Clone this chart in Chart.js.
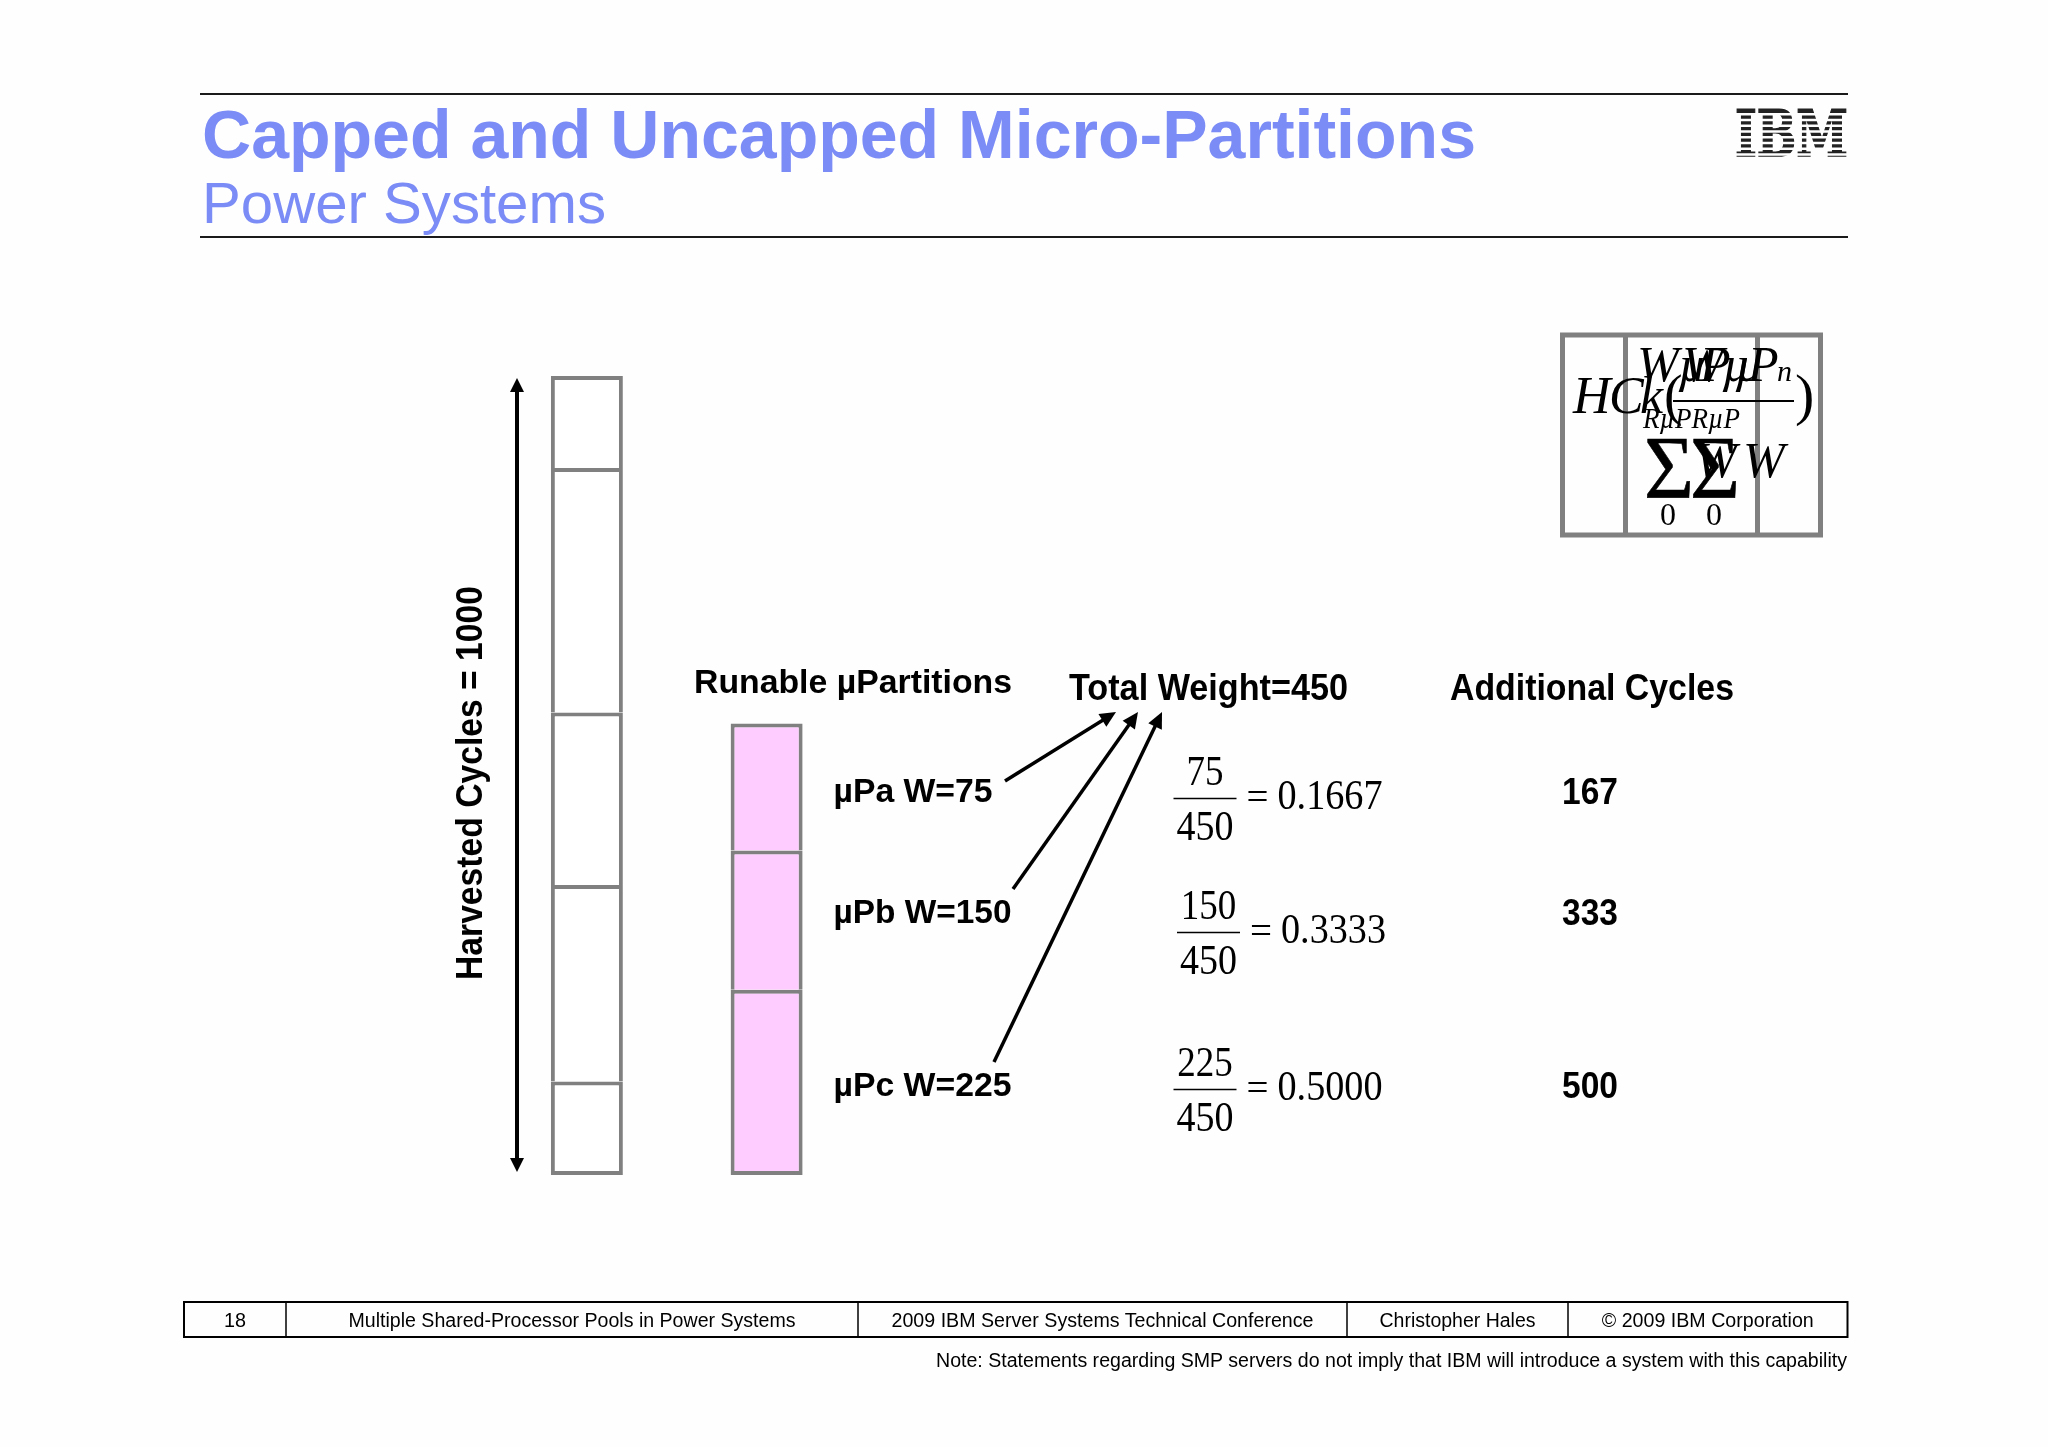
<!DOCTYPE html>
<html>
<head>
<meta charset="utf-8">
<title>Capped and Uncapped Micro-Partitions</title>
<script src="https://cdn.jsdelivr.net/npm/chart.js@4"></script>
<style>
html, body { margin: 0; padding: 0; background: #fefefe; }
#page { position: relative; width: 2048px; height: 1447px; overflow: hidden; }
#chart { position: absolute; left: 0; top: 0; }
#overlay { position: absolute; left: 0; top: 0; }
</style>
</head>
<body>
<div id="page">
<canvas id="chart" width="2048" height="1447"></canvas>
<svg id="overlay" width="2048" height="1447" viewBox="0 0 2048 1447"></svg>
</div>
<script>
// values, bottom segment first
const columns = ['Harvested Cycles', 'Runable µPartitions'];
const harvestedSegments = [117, 246, 216, 306, 115];
const runableSegments = [232, 174, 159];

const partitions = ['µPa', 'µPb', 'µPc'];
const weights = [75, 150, 225];
const shares = ['0.1667', '0.3333', '0.5000'];
const additionalCycles = [167, 333, 500];
const totalWeight = 450;
const harvestedTotal = 1000;

const footerCells = ['18', 'Multiple Shared-Processor Pools in Power Systems', '2009 IBM Server Systems Technical Conference', 'Christopher Hales', '© 2009 IBM Corporation'];

const GREY = '#808080';
const PINK = '#ffccff';
const TITLE_BLUE = '#7b8cf6';
const SANS = '"Liberation Sans", Arial, sans-serif';
const SERIF = '"Liberation Serif", "Times New Roman", serif';

function segmentDataset(value, index, column, fill) {
    let data = [null, null];
    data[column] = value;
    return {
        data: data,
        backgroundColor: fill,
        borderColor: GREY,
        borderWidth: 4,
        borderSkipped: index === 0 ? false : 'start',
        inflateAmount: 0,
        barThickness: 72
    };
}

const datasets = [
    ...harvestedSegments.map((v, i) => segmentDataset(v, i, 0, '#ffffff')),
    ...runableSegments.map((v, i) => segmentDataset(v, i, 1, PINK))
];

new Chart(document.getElementById('chart').getContext('2d'), {
    type: 'bar',
    data: { labels: columns, datasets: datasets },
    options: {
        responsive: false,
        animation: false,
        layout: { padding: { left: 497, right: 1191.5, top: 376, bottom: 272 } },
        plugins: { legend: { display: false }, tooltip: { enabled: false } },
        scales: {
            x: { display: false, stacked: true },
            y: { display: false, stacked: true, min: 0, max: harvestedTotal }
        }
    }
});

// everything around the chart: slide furniture, labels, arrows
const svg = document.getElementById('overlay');
const NS = 'http://www.w3.org/2000/svg';

function add(tag, attrs, content) {
    let el = document.createElementNS(NS, tag);
    for (let k in attrs) el.setAttribute(k, attrs[k]);
    if (content !== undefined) el.textContent = content;
    svg.appendChild(el);
    return el;
}

function text(str, x, y, size, opts) {
    opts = opts || {};
    let attrs = {
        x: x, y: y,
        'font-size': size,
        'font-family': opts.family || SANS,
        'font-weight': opts.weight || 'normal',
        'font-style': opts.style || 'normal',
        fill: opts.fill || '#000000',
        'text-anchor': opts.anchor || 'start'
    };
    if (opts.width) {
        attrs.textLength = opts.width;
        attrs.lengthAdjust = 'spacingAndGlyphs';
    }
    if (opts.stroke) {
        attrs.stroke = opts.fill || '#000000';
        attrs['stroke-width'] = opts.stroke;
    }
    if (opts.transform) attrs.transform = opts.transform;
    return add('text', attrs, str);
}

function line(x1, y1, x2, y2, width, color) {
    add('line', { x1: x1, y1: y1, x2: x2, y2: y2, stroke: color || '#000000', 'stroke-width': width });
}

function arrowHead(x1, y1, x2, y2, len, half) {
    let a = Math.atan2(y2 - y1, x2 - x1);
    let bx = x2 - len * Math.cos(a), by = y2 - len * Math.sin(a);
    let nx = -Math.sin(a) * half, ny = Math.cos(a) * half;
    add('polygon', { points: `${x2},${y2} ${bx + nx},${by + ny} ${bx - nx},${by - ny}`, fill: '#000000' });
}

function arrow(x1, y1, x2, y2) {
    let a = Math.atan2(y2 - y1, x2 - x1);
    line(x1, y1, x2 - 10 * Math.cos(a), y2 - 10 * Math.sin(a), 3.5);
    arrowHead(x1, y1, x2, y2, 16, 7.5);
}

// header
line(200, 94, 1848, 94, 2, '#1a1a1a');
line(200, 237, 1848, 237, 2, '#1a1a1a');
text('Capped and Uncapped Micro-Partitions', 202, 158, 68, { weight: 'bold', fill: TITLE_BLUE, width: 1274 });
text('Power Systems', 202, 223, 58, { fill: TITLE_BLUE, width: 404 });

// IBM logo: heavy serif letters cut by white stripes
text('IBM', 1735, 156, 63, { family: '"DejaVu Serif", serif', weight: 'bold', fill: '#222222', width: 113, stroke: 1.6 });
for (let i = 0; i < 8; i++) {
    add('rect', { x: 1730, y: 113 + i * 5.75, width: 122, height: 2.5, fill: '#fefefe' });
}

// formula box
add('rect', { x: 1562.5, y: 335, width: 258, height: 200, fill: 'none', stroke: GREY, 'stroke-width': 5 });
line(1625.5, 335, 1625.5, 535, 5, GREY);
line(1757.5, 335, 1757.5, 535, 5, GREY);
const mathItalic = { family: SERIF, style: 'italic' };
text('H', 1573, 413, 52, mathItalic);
text('C', 1609, 413, 52, mathItalic);
text('k', 1640, 413, 52, mathItalic);
text('(', 1664, 414, 56, { family: SERIF });
text('W', 1637, 381, 50, mathItalic);
text('µ', 1678, 381, 50, mathItalic);
text('W', 1682, 381, 50, mathItalic);
text('P', 1700, 381, 50, mathItalic);
text('µ', 1722, 381, 50, mathItalic);
text('µ', 1735, 381, 50, mathItalic);
text('P', 1748, 381, 50, mathItalic);
text('n', 1777, 381, 30, mathItalic);
line(1673, 401, 1794, 401, 2);
text(')', 1795, 414, 58, { family: SERIF });
text('RµPRµP', 1643, 428, 30, Object.assign({ width: 97 }, mathItalic));
text('Σ', 1644, 497, 88, { family: SERIF, width: 50, stroke: 0.6 });
text('Σ', 1690, 497, 88, { family: SERIF, width: 50, stroke: 0.6 });
text('W', 1695, 477, 50, mathItalic);
text('W', 1743, 477, 50, mathItalic);
text('0', 1660, 525, 32, { family: SERIF });
text('0', 1706, 525, 32, { family: SERIF });

// harvested side
line(517, 388, 517, 1162, 4);
arrowHead(517, 400, 517, 378, 14, 7);
arrowHead(517, 1150, 517, 1172, 14, 7);
text('Harvested Cycles = ' + harvestedTotal, 0, 0, 36, { weight: 'bold', width: 394, transform: 'translate(482 980) rotate(-90)' });

// column headings
text('Runable µPartitions', 694, 693, 34, { weight: 'bold', width: 318 });
text('Total Weight=' + totalWeight, 1069, 700, 36, { weight: 'bold', width: 279 });
text('Additional Cycles', 1450, 700, 36, { weight: 'bold', width: 284 });

// one row per partition
const labelWidths = [159, 178, 178];
const labelBase = [802, 923, 1096];
const fracLeft = [1173.5, 1177, 1173.5];
const fracRule = [798.5, 932.5, 1089.5];
const arrowStarts = [[1005, 781], [1013, 889], [994, 1062]];
const arrowTips = [[1116, 712], [1138, 712], [1162, 712]];

partitions.forEach((p, i) => {
    text(`${p} W=${weights[i]}`, 833.5, labelBase[i], 34, { weight: 'bold', width: labelWidths[i] });
    arrow(arrowStarts[i][0], arrowStarts[i][1], arrowTips[i][0], arrowTips[i][1]);

    let left = fracLeft[i], rule = fracRule[i];
    let topWidth = String(weights[i]).length * 18.5;
    line(left, rule, left + 63, rule, 1.5);
    text(String(weights[i]), left + 31.5 - topWidth / 2, rule - 14, 42, { family: SERIF, width: topWidth });
    text(String(totalWeight), left + 3, rule + 41, 42, { family: SERIF, width: 57 });
    text('=', left + 73, rule + 10, 38, { family: SERIF, width: 22 });
    text(shares[i], left + 104, rule + 10, 42, { family: SERIF, width: 105 });

    text(String(additionalCycles[i]), 1562, labelBase[i] + 1.5, 36, { weight: 'bold', width: 56 });
});

// footer table
add('rect', { x: 184, y: 1302, width: 1663.5, height: 35, fill: 'none', stroke: '#000000', 'stroke-width': 2 });
const cellEdges = [184, 286, 858, 1347, 1568, 1847.5];
const footerWidths = [22, 447, 422, 156, 212];
footerCells.forEach((cell, i) => {
    if (i > 0) line(cellEdges[i], 1302, cellEdges[i], 1337, 1.5);
    let mid = (cellEdges[i] + cellEdges[i + 1]) / 2;
    text(cell, mid - footerWidths[i] / 2, 1326.5, 19.5, { width: footerWidths[i] });
});
text('Note: Statements regarding SMP servers do not imply that IBM will introduce a system with this capability', 936, 1366.5, 19.5, { width: 911 });
</script>
</body>
</html>
